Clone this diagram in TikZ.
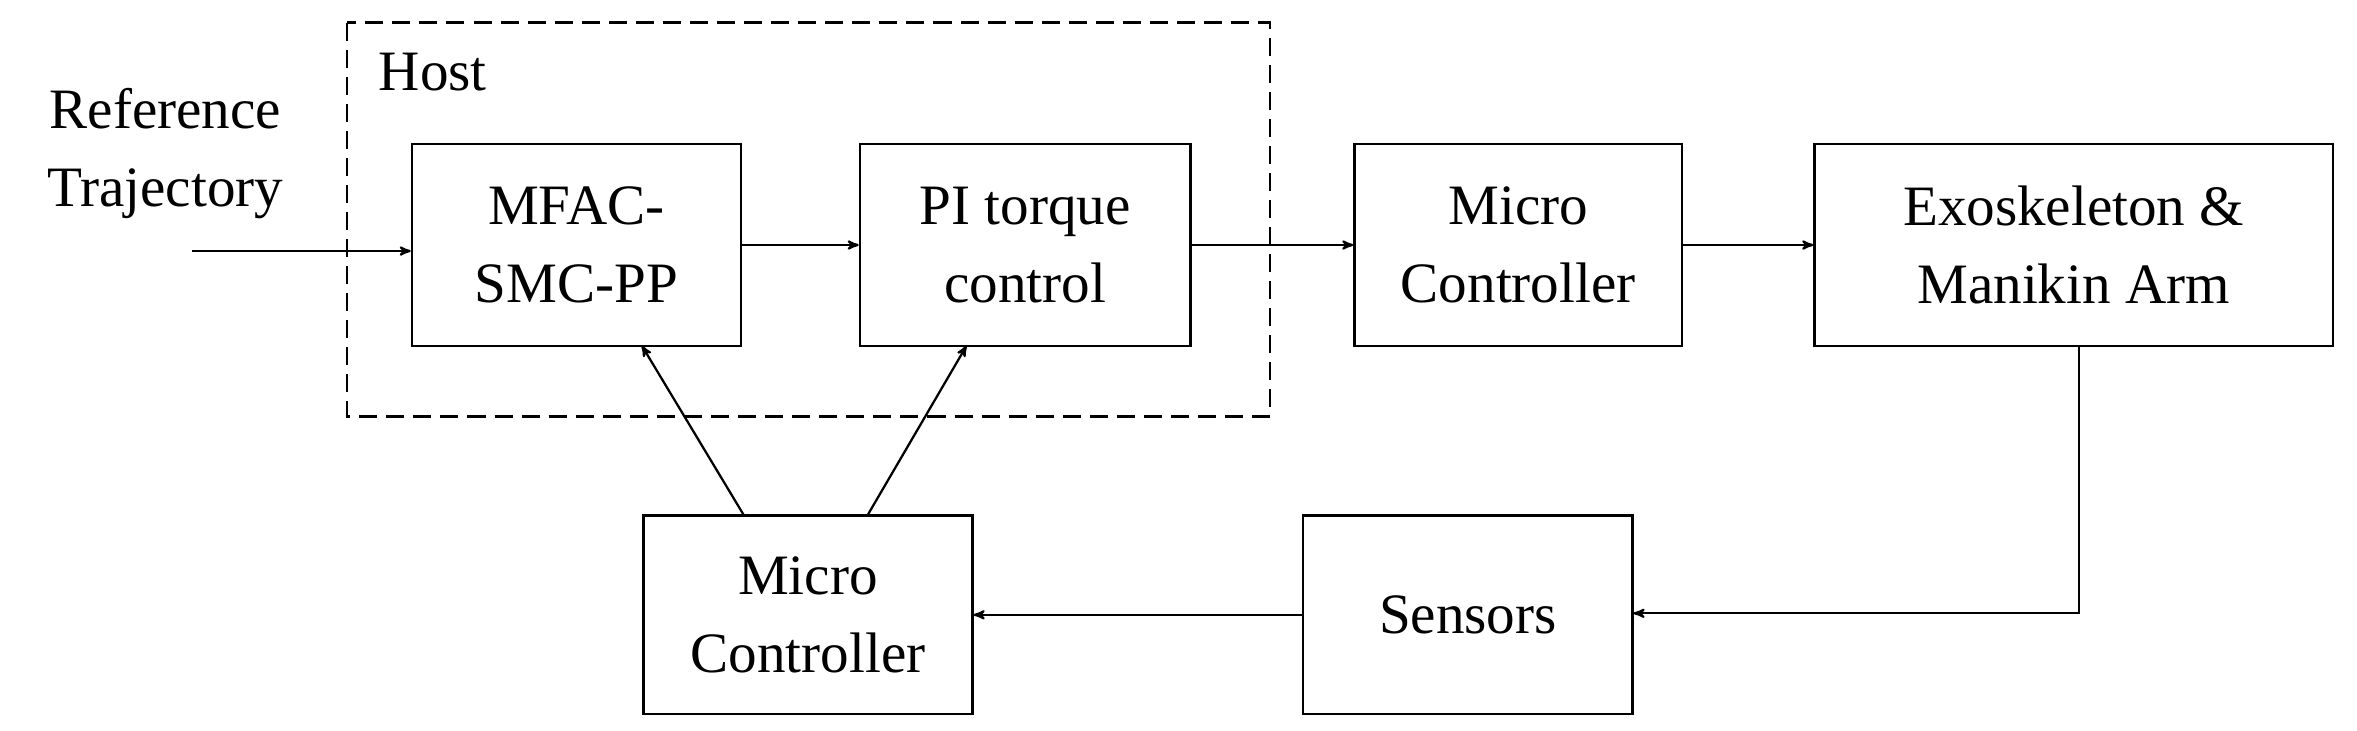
\documentclass[tikz,border=0pt]{standalone}
\usepackage{fontspec}
\setmainfont{Liberation Serif}
\usetikzlibrary{arrows,positioning}
\begin{document}
\begin{tikzpicture}[x=1pt,y=-1pt,->,>=stealth',semithick,line width=1.5pt,
                    font=\fontsize{38}{52}\selectfont]
  \tikzset{block/.style={draw=black,-,minimum height=134pt,align=center,inner sep=0pt},
           host/.style={draw=black,dashed,-,dash pattern=on 12pt off 6pt}}
  \useasboundingbox (0,0) rectangle (1568,486);

  \draw[host] (231,15) rectangle (845,277);
  \node[anchor=west] (hostlbl) at (248,48) {Host};

  \node[block,minimum width=219pt] (MFAC) at (383.5,163) {MFAC-\\SMC-PP};
  \node[block,minimum width=220pt] (PI)   at (682,163)   {PI torque\\control};
  \node[block,minimum width=218pt] (MC1)  at (1010,163)  {Micro\\Controller};
  \node[block,minimum width=345pt] (EXO)  at (1379.5,163) {Exoskeleton \&\\Manikin Arm};
  \node[block,minimum width=219pt,minimum height=132pt] (MC2) at (537.5,409) {Micro\\Controller};
  \node[block,minimum width=219pt,minimum height=132pt] (SEN) at (976.5,409) {Sensors};

  \node[align=center] (ref) at (110,102) {Reference\\Trajectory};
  \coordinate (in) at (128,167);
  \coordinate (corner) at (1383,408);

  \path (in)   edge (MFAC.west |- in)
        (MFAC) edge (PI)
        (PI)   edge (MC1)
        (MC1)  edge (EXO)
        (SEN)  edge (MC2)
        (495,343) edge (427,230)
        (577,343) edge (643,230);
  \draw (EXO.south -| corner) -- (corner) -- (SEN.east |- corner);
\end{tikzpicture}
\end{document}
